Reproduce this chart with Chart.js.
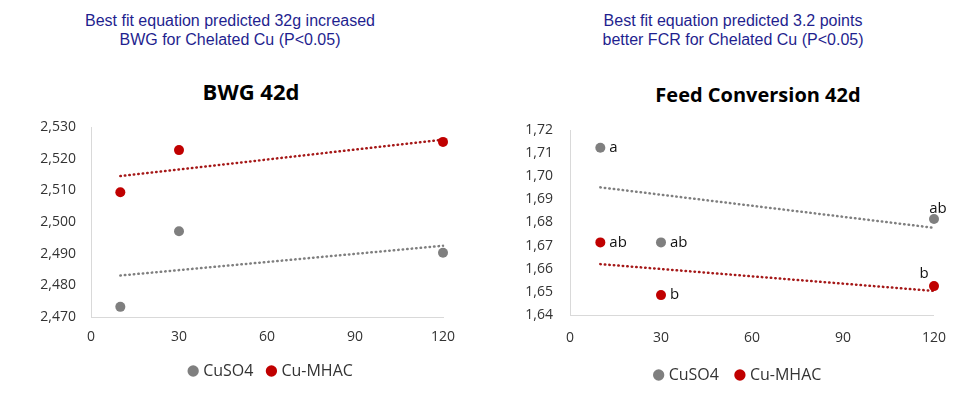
<!DOCTYPE html>
<html>
<head>
<meta charset="utf-8">
<script src="https://cdn.jsdelivr.net/npm/chart.js@4.4.1/dist/chart.umd.min.js"></script>
<style>
  body { margin: 0; background: #fff; }
  #wrap { position: relative; width: 961px; height: 394px; overflow: hidden; }
  canvas { position: absolute; top: 0; }
  .note { position: absolute; color: #1f1f8f; font: 16px "Liberation Sans", Arial, sans-serif; line-height: 19px; text-align: center; white-space: nowrap; transform: translateX(-50%); }
  .title { position: absolute; color: #000; font: bold 20px "Open Sans", sans-serif; white-space: nowrap; transform: translateX(-50%); }
</style>
</head>
<body>
<div id="wrap">
  <div class="note" style="left:230px; top:11px;">Best fit equation predicted 32g increased<br>BWG for Chelated Cu (P&lt;0.05)</div>
  <div class="note" style="left:733px; top:11px;">Best fit equation predicted 3.2 points<br>better FCR for Chelated Cu (P&lt;0.05)</div>
  <div class="title" style="left:251px; top:76px; font-size:22px;">BWG 42d</div>
  <div class="title" style="left:758px; top:81px;">Feed Conversion 42d</div>
  <canvas id="bwg" width="544" height="394" style="left:0; width:544px; height:394px;"></canvas>
  <canvas id="fcr" width="444" height="394" style="left:517px; width:444px; height:394px;"></canvas>
</div>
<script>
const doses = [10, 30, 120];
const seriesNames = ['CuSO4', 'Cu-MHAC'];
const xTicks = [0, 30, 60, 90, 120];

// BWG 42d (g)
const bwgCuso4 = [2473.2, 2497.1, 2490.3];
const bwgMhac = [2509.4, 2522.7, 2525.3];
const bwgTrendX = [10, 120];
const bwgTrendCuso4 = [2483.1, 2492.5];
const bwgTrendMhac = [2514.5, 2526.0];
const bwgTicks = [2470, 2480, 2490, 2500, 2510, 2520, 2530];
const bwgTickLabels = ['2,470', '2,480', '2,490', '2,500', '2,510', '2,520', '2,530'];

// Feed conversion 42d
const fcrCuso4 = [1.7123, 1.6714, 1.6815];
const fcrMhac = [1.6714, 1.6486, 1.6525];
const fcrTrendX = [10, 120];
const fcrTrendCuso4 = [1.6952, 1.6777];
const fcrTrendMhac = [1.6620, 1.6504];
const fcrTicks = [1.64, 1.65, 1.66, 1.67, 1.68, 1.69, 1.70, 1.71, 1.72];
const fcrTickLabels = ['1,64', '1,65', '1,66', '1,67', '1,68', '1,69', '1,70', '1,71', '1,72'];
const fcrLetterCuso4 = ['a', 'ab', 'ab'];
const fcrLetterMhac = ['ab', 'b', 'b'];
const fcrLetterPlaceCuso4 = ['right', 'right', 'above'];
const fcrLetterPlaceMhac = ['right', 'right', 'aboveLeft'];

const GREY = '#7f7f7f';
const RED = '#c00000';
const TREND_RED = '#a51818';
const FONT = '"Open Sans", sans-serif';

Chart.defaults.font.family = FONT;
Chart.defaults.color = '#333';

function pts(xs, ys) {
  return xs.map((x, i) => ({ x: x, y: ys[i] }));
}

function scatterSet(label, data, color, letters, places) {
  return {
    type: 'scatter', label: label, data: data,
    backgroundColor: color, borderWidth: 0,
    pointRadius: 5, pointHoverRadius: 5,
    clip: false, letters: letters, places: places, order: 1
  };
}

function trendSet(data, color) {
  return {
    type: 'line', label: 'trend', data: data,
    borderColor: color, borderWidth: 2.5,
    borderDash: [0.5, 4], borderCapStyle: 'round',
    pointRadius: 0, fill: false, clip: false, order: 2
  };
}

// draws the a/ab/b letters next to each point
const letterPlugin = {
  id: 'letters',
  afterDatasetsDraw(chart) {
    const ctx = chart.ctx;
    ctx.save();
    ctx.font = '15px ' + FONT;
    ctx.fillStyle = '#111';
    chart.data.datasets.forEach((ds, di) => {
      if (!ds.letters) return;
      chart.getDatasetMeta(di).data.forEach((pt, i) => {
        const place = ds.places[i];
        if (place === 'right') {
          ctx.textAlign = 'left'; ctx.textBaseline = 'middle';
          ctx.fillText(ds.letters[i], pt.x + 9, pt.y);
        } else if (place === 'above') {
          ctx.textAlign = 'center'; ctx.textBaseline = 'bottom';
          ctx.fillText(ds.letters[i], pt.x + 4, pt.y - 3);
        } else {
          ctx.textAlign = 'center'; ctx.textBaseline = 'bottom';
          ctx.fillText(ds.letters[i], pt.x - 10, pt.y - 5);
        }
      });
    });
    ctx.restore();
  }
};

function makeOptions(cfg) {
  return {
    responsive: false,
    animation: false,
    devicePixelRatio: 1,
    layout: { padding: cfg.padding },
    plugins: {
      tooltip: { enabled: false },
      title: { display: false },
      legend: {
        position: 'bottom',
        labels: {
          usePointStyle: true, pointStyle: 'circle',
          boxHeight: 8, boxWidth: 4,
          padding: cfg.legendPad,
          font: { size: cfg.legendSize },
          color: '#333',
          filter: item => item.text !== 'trend'
        }
      }
    },
    scales: {
      x: {
        type: 'linear', min: 0, max: 120,
        grid: { display: false, drawTicks: false },
        border: { display: true, color: '#d9d9d9', width: 1 },
        afterBuildTicks: s => { s.ticks = xTicks.map(v => ({ value: v })); },
        afterFit: s => { s.height = cfg.xHeight; },
        ticks: { padding: cfg.xPad, font: { size: 14 }, color: '#333', maxRotation: 0 }
      },
      y: {
        type: 'linear', min: cfg.yTicks[0], max: cfg.yTicks[cfg.yTicks.length - 1],
        grid: { display: false, drawTicks: false },
        border: { display: true, color: '#d9d9d9', width: 1 },
        afterBuildTicks: s => { s.ticks = cfg.yTicks.map(v => ({ value: v })); },
        afterFit: s => { s.width = cfg.yWidth; },
        ticks: {
          padding: cfg.yPad, font: { size: 14 }, color: '#333',
          callback: (v, i) => cfg.yLabels[i]
        }
      },
      // empty right-hand box: keeps space right of the plot so the legend centres like the original
      spacer: {
        type: 'linear', position: 'right', display: true,
        grid: { display: false, drawTicks: false },
        border: { display: false },
        ticks: { display: false },
        afterFit: s => { s.width = cfg.rightGap; }
      }
    }
  };
}

new Chart(document.getElementById('bwg'), {
  data: {
    datasets: [
      scatterSet(seriesNames[0], pts(doses, bwgCuso4), GREY),
      scatterSet(seriesNames[1], pts(doses, bwgMhac), RED),
      trendSet(pts(bwgTrendX, bwgTrendCuso4), GREY),
      trendSet(pts(bwgTrendX, bwgTrendMhac), TREND_RED)
    ]
  },
  options: makeOptions({
    padding: { top: 127, left: 0, right: 0, bottom: 5 },
    legendPad: 16, legendSize: 16,
    xHeight: 30, xPad: 12,
    yWidth: 91, yPad: 15, rightGap: 101,
    yTicks: bwgTicks, yLabels: bwgTickLabels
  })
});

new Chart(document.getElementById('fcr'), {
  data: {
    datasets: [
      scatterSet(seriesNames[0], pts(doses, fcrCuso4), GREY, fcrLetterCuso4, fcrLetterPlaceCuso4),
      scatterSet(seriesNames[1], pts(doses, fcrMhac), RED, fcrLetterMhac, fcrLetterPlaceMhac),
      trendSet(pts(fcrTrendX, fcrTrendCuso4), GREY),
      trendSet(pts(fcrTrendX, fcrTrendMhac), TREND_RED)
    ]
  },
  options: makeOptions({
    padding: { top: 130, left: 0, right: 0, bottom: 1 },
    legendPad: 19, legendSize: 16,
    xHeight: 33, xPad: 15,
    yWidth: 53, yPad: 17, rightGap: 26,
    yTicks: fcrTicks, yLabels: fcrTickLabels
  }),
  plugins: [letterPlugin]
});
</script>
</body>
</html>
